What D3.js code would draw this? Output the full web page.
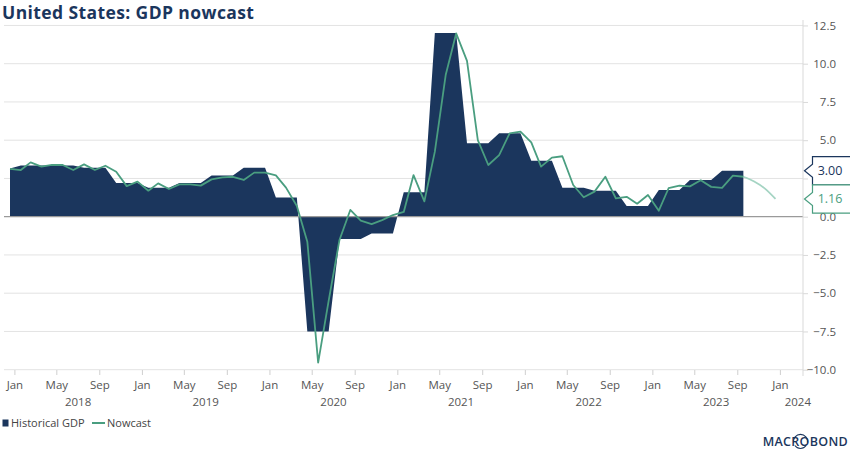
<!DOCTYPE html>
<html>
<head>
<meta charset="utf-8">
<script src="https://cdn.jsdelivr.net/npm/d3@7"></script>
<style>
  html, body { margin: 0; padding: 0; background: #fff; }
  svg { display: block; }
  text { font-family: "Open Sans", "Noto Sans", sans-serif; }
</style>
</head>
<body>
<svg id="chart" width="850" height="453"></svg>
<script>
// ---------------- DATA ----------------
const firstMonth = "2018-01-01";           // first monthly observation
// Historical GDP (y/y %, monthly representation of quarterly releases), Jan 2018 .. Oct 2023
const historicalGDP = [
  3.15, 3.35, 3.35, 3.35, 3.35, 3.35, 3.35, 3.2, 3.2, 3.2,
  2.2, 2.2, 2.2, 1.9, 1.9, 1.9, 2.2, 2.2, 2.2, 2.7,
  2.7, 2.7, 3.2, 3.2, 3.2, 1.25, 1.25, 1.25, -7.5, -7.5,
  -7.5, -1.45, -1.45, -1.45, -1.1, -1.1, -1.1, 1.6, 1.6, 1.6,
  12.0, 12.0, 12.0, 4.8, 4.8, 4.8, 5.45, 5.45, 5.45, 3.65,
  3.65, 3.65, 1.9, 1.9, 1.9, 1.7, 1.7, 1.7, 0.7, 0.7,
  0.7, 1.75, 1.75, 1.75, 2.4, 2.4, 2.4, 3.0, 3.0, 3.0
];
// Nowcast (monthly), Jan 2018 .. Oct 2023
const nowcast = [
  3.12, 3.05, 3.55, 3.27, 3.38, 3.38, 3.05, 3.42, 3.05, 3.33,
  2.94, 2.0, 2.29, 1.7, 2.18, 1.81, 2.11, 2.11, 2.03, 2.44,
  2.57, 2.61, 2.4, 2.88, 2.88, 2.7, 1.9, 0.7, -1.63, -9.54,
  -5.5, -1.52, 0.44, -0.26, -0.48, -0.22, 0.11, 0.31, 2.72, 1.0,
  4.25, 9.26, 11.98, 10.18, 5.01, 3.38, 4.03, 5.45, 5.56, 4.86,
  3.27, 3.86, 3.95, 2.07, 1.27, 1.64, 2.61, 1.2, 1.3, 0.85,
  1.42, 0.39, 1.86, 2.03, 1.98, 2.38, 1.95, 1.88, 2.68, 2.61
];
// Nowcast continuation (Oct 2023 .. Jan 2024)
const nowcastTailStart = "2023-10-01";
const nowcastTail = [2.61, 2.3, 1.85, 1.16];

const yTicks = [12.5, 10, 7.5, 5, 2.5, 0, -2.5, -5, -7.5, -10];
const yTicksHiddenLabel = [2.5];           // covered by the last-value boxes
const monthTickLabels = ["Jan", "May", "Sep"];
const years = [2018, 2019, 2020, 2021, 2022, 2023, 2024];
const lastLabels = [{ text: "3.00", value: 3.00, series: "hist" }, { text: "1.16", value: 1.16, series: "now" }];
const legendItems = ["Historical GDP", "Nowcast"];
const titleText = "United States: GDP nowcast";

// ---------------- STYLE ----------------
const navy = "#1b365d";
const green = "#4a9e80";
const lightGreen = "#a5d4c3";
const gridColor = "#e3e3e3";
const axisText = "#555555";

const svg = d3.select("#chart");
const parse = d3.timeParse("%Y-%m-%d");
const t0 = parse(firstMonth);
const monthDate = i => d3.timeMonth.offset(t0, i);

const x = d3.scaleTime()
  .domain([parse("2018-01-01"), parse("2024-01-01")])
  .range([10, 775.5]);
const y = d3.scaleLinear().domain([-10, 12.5]).range([369.7, 25.45]);

const plotLeft = 4, plotRight = 803;

// gridlines
svg.append("g").selectAll("line").data(yTicks.filter(d => d !== 0)).join("line")
  .attr("x1", plotLeft).attr("x2", plotRight)
  .attr("y1", d => y(d)).attr("y2", d => y(d))
  .attr("stroke", gridColor).attr("stroke-width", 1);

// historical area
const histData = historicalGDP.map((v, i) => ({ date: monthDate(i), v }));
svg.append("path")
  .datum(histData)
  .attr("fill", navy)
  .attr("d", d3.area().x(d => x(d.date)).y0(y(0)).y1(d => y(d.v)));

// zero line
svg.append("line")
  .attr("x1", plotLeft).attr("x2", plotRight)
  .attr("y1", y(0)).attr("y2", y(0))
  .attr("stroke", "#9a9a9a").attr("stroke-width", 1.2);

// nowcast tail (lighter)
const tailStart = parse(nowcastTailStart);
const tailData = nowcastTail.map((v, i) => ({ date: d3.timeMonth.offset(tailStart, i), v }));
svg.append("path")
  .datum(tailData)
  .attr("fill", "none")
  .attr("stroke", lightGreen).attr("stroke-width", 1.8)
  .attr("d", d3.line().x(d => x(d.date)).y(d => y(d.v)).curve(d3.curveMonotoneX));

// nowcast line
const nowData = nowcast.map((v, i) => ({ date: monthDate(i), v }));
svg.append("path")
  .datum(nowData)
  .attr("fill", "none")
  .attr("stroke", green).attr("stroke-width", 1.8)
  .attr("stroke-linejoin", "round")
  .attr("d", d3.line().x(d => x(d.date)).y(d => y(d.v)));

// right axis
const yAxis = d3.axisRight(y).tickValues(yTicks).tickSize(5).tickPadding(0)
  .tickFormat(d => yTicksHiddenLabel.includes(d) ? "" : d3.format(".1f")(d));
const gy = svg.append("g").attr("transform", `translate(${plotRight},0)`).call(yAxis);
gy.select(".domain").attr("stroke", "#d9d9d9").attr("d", `M0,20V376`);
gy.selectAll(".tick line").attr("stroke", "#d9d9d9");
gy.selectAll(".tick text")
  .attr("x", 33).attr("text-anchor", "end")
  .attr("fill", axisText).attr("font-size", 11.5);

// last value labels
const boxH = 28.3;
const boxLeft = 812.5, tipX = 804.5, notch = 6.5;
lastLabels.forEach(l => {
  const cy = y(l.value);
  const col = l.series === "hist" ? navy : green;
  const top = cy - boxH / 2, bot = cy + boxH / 2;
  const p = d3.path();
  p.moveTo(852, top);
  p.lineTo(boxLeft, top);
  p.lineTo(boxLeft, cy - notch);
  p.lineTo(tipX, cy);
  p.lineTo(boxLeft, cy + notch);
  p.lineTo(boxLeft, bot);
  p.lineTo(852, bot);
  svg.append("path").attr("d", p.toString())
    .attr("fill", "#fff").attr("stroke", col).attr("stroke-width", 1.2);
  svg.append("text").attr("x", 830).attr("y", cy + 4.3)
    .attr("text-anchor", "middle").attr("font-size", 12.5)
    .attr("fill", col).text(l.text);
});

// x axis: month labels at mid-month
const monthTicks = [];
d3.timeMonth.range(parse("2018-01-01"), parse("2024-02-01")).forEach(d => {
  const name = d3.timeFormat("%b")(d);
  if (monthTickLabels.includes(name)) monthTicks.push(d3.timeDay.offset(d, 14));
});
const gx = svg.append("g").attr("transform", "translate(0,370)");
gx.selectAll("line").data(monthTicks).join("line")
  .attr("x1", d => x(d)).attr("x2", d => x(d))
  .attr("y1", 0).attr("y2", 5)
  .attr("stroke", "#cfcfcf");
gx.selectAll("text.m").data(monthTicks).join("text")
  .attr("class", "m")
  .attr("x", d => x(d)).attr("y", 19)
  .attr("text-anchor", "middle").attr("font-size", 11.5).attr("fill", axisText)
  .text(d => d3.timeFormat("%b")(d));
gx.selectAll("text.y").data(years).join("text")
  .attr("class", "y")
  .attr("x", d => d === 2024 ? 811 : x(parse(`${d}-07-15`)))
  .attr("y", 36)
  .attr("text-anchor", d => d === 2024 ? "end" : "middle")
  .attr("font-size", 11.5).attr("fill", axisText)
  .text(d => d);

// title
svg.append("text").attr("x", 2).attr("y", 19)
  .attr("font-size", 17.5).attr("font-weight", 700).attr("fill", navy)
  .attr("letter-spacing", 0.4)
  .text(titleText);

// legend
const lg = svg.append("g").attr("transform", "translate(0,423)");
lg.append("rect").attr("x", 2.5).attr("y", -3.5).attr("width", 6).attr("height", 7).attr("fill", navy);
lg.append("text").attr("x", 11).attr("y", 4).attr("font-size", 11).attr("fill", "#444").text(legendItems[0]);
lg.append("line").attr("x1", 92).attr("x2", 105).attr("y1", 0).attr("y2", 0)
  .attr("stroke", green).attr("stroke-width", 2);
lg.append("text").attr("x", 107).attr("y", 4).attr("font-size", 11).attr("fill", "#444").text(legendItems[1]);

// logo
const logo = svg.append("g").attr("transform", "translate(848,446)");
logo.append("text").attr("x", 0).attr("y", 0).attr("text-anchor", "end")
  .attr("font-size", 12.5).attr("font-weight", 600).attr("fill", navy)
  .attr("letter-spacing", 0.3).text("MACROBOND");
logo.append("path")
  .attr("d", d3.arc()({ innerRadius: 6.5, outerRadius: 7.6, startAngle: -Math.PI * 0.55, endAngle: Math.PI * 0.55 }))
  .attr("transform", "translate(-47.5,-4.6)").attr("fill", navy);
logo.append("path")
  .attr("d", d3.arc()({ innerRadius: 6.5, outerRadius: 7.6, startAngle: Math.PI * 0.7, endAngle: Math.PI * 1.3 }))
  .attr("transform", "translate(-47.5,-4.6)").attr("fill", navy);
</script>
</body>
</html>
